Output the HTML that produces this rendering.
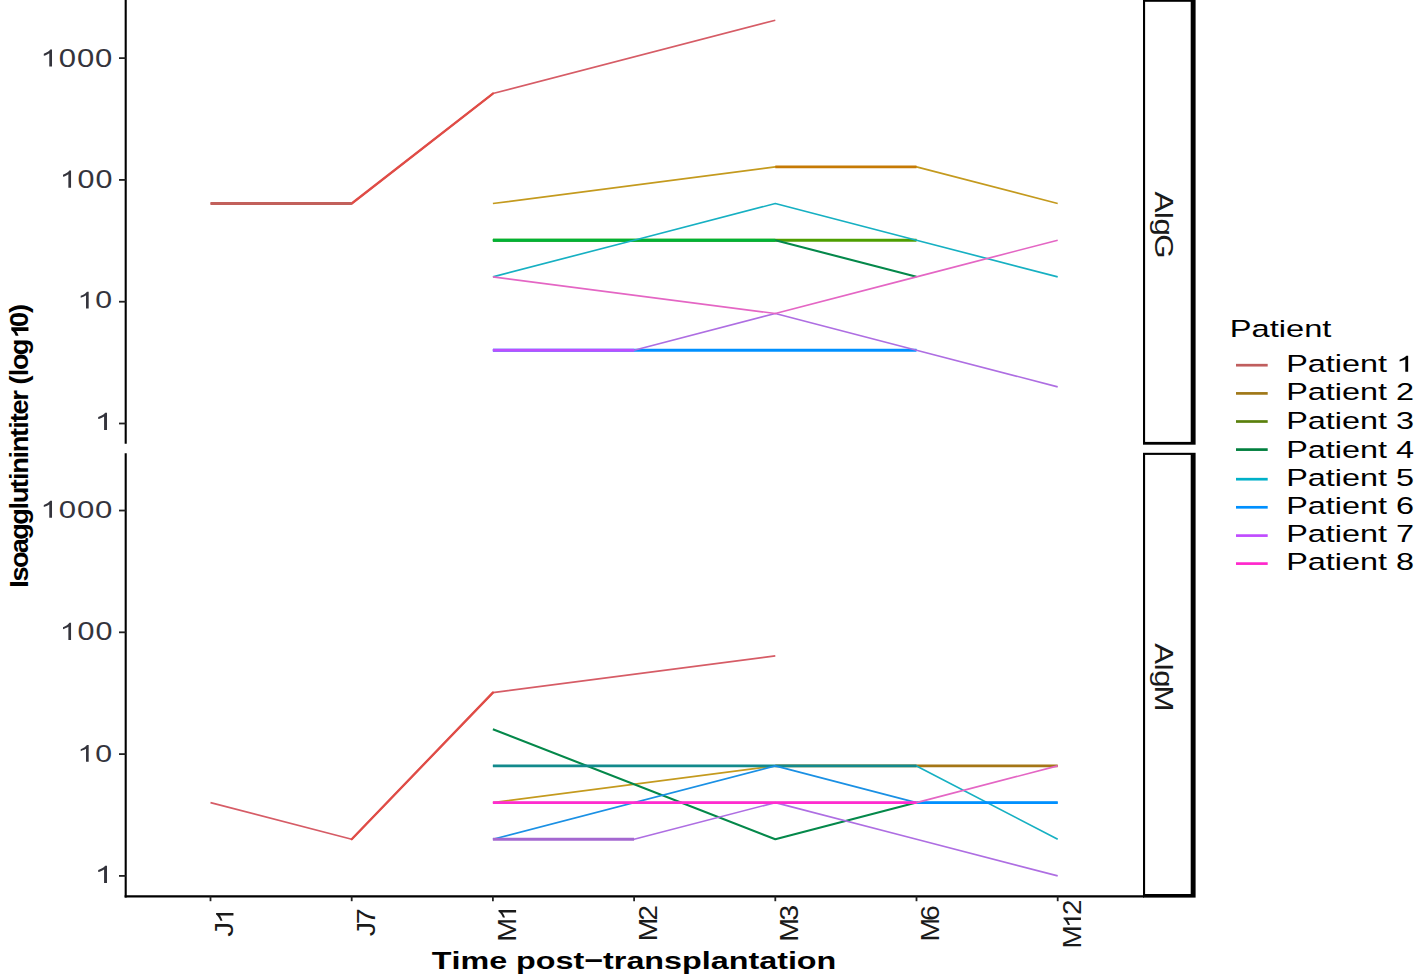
<!DOCTYPE html>
<html><head><meta charset="utf-8"><style>
html,body{margin:0;padding:0;background:#fff;overflow:hidden;width:1417px;height:980px;}
svg{display:block;font-family:"Liberation Sans", sans-serif;}
</style></head><body>
<svg width="1417" height="980" viewBox="0 0 1417 980">
<rect x="0" y="0" width="1417" height="980" fill="#fff"/>
<polyline points="210.50,203.53 351.70,203.53 492.90,93.54 775.30,20.21" fill="none" stroke="#D65C66" stroke-width="1.65" stroke-linejoin="round"/>
<line x1="351.70" y1="203.53" x2="492.90" y2="93.54" stroke="#E04C46" stroke-width="2.3" stroke-linecap="round"/>
<line x1="210.50" y1="203.53" x2="351.70" y2="203.53" stroke="#C2605B" stroke-width="2.9"/>
<polyline points="492.90,203.53 775.30,166.86 916.50,166.86 1057.70,203.53" fill="none" stroke="#C49A1E" stroke-width="1.65" stroke-linejoin="round"/>
<line x1="775.30" y1="166.86" x2="916.50" y2="166.86" stroke="#C67A04" stroke-width="2.9"/>
<polyline points="492.90,240.19 634.10,240.19 775.30,240.19 916.50,240.19" fill="none" stroke="#5A9A10" stroke-width="1.65" stroke-linejoin="round"/>
<line x1="492.90" y1="240.19" x2="916.50" y2="240.19" stroke="#4E9E00" stroke-width="2.9"/>
<polyline points="492.90,240.19 634.10,240.19 775.30,240.19 916.50,276.85" fill="none" stroke="#04884A" stroke-width="2.1" stroke-linejoin="round"/>
<line x1="492.90" y1="240.19" x2="775.30" y2="240.19" stroke="#00B236" stroke-width="2.9"/>
<polyline points="492.90,276.85 634.10,240.19 775.30,203.53 916.50,240.19 1057.70,276.85" fill="none" stroke="#16B0C2" stroke-width="1.65" stroke-linejoin="round"/>
<polyline points="492.90,350.18 634.10,350.18 775.30,350.18 916.50,350.18" fill="none" stroke="#1A90E4" stroke-width="1.65" stroke-linejoin="round"/>
<line x1="492.90" y1="350.18" x2="916.50" y2="350.18" stroke="#0090FF" stroke-width="2.9"/>
<polyline points="492.90,350.18 634.10,350.18 775.30,313.51 916.50,350.18 1057.70,386.84" fill="none" stroke="#AE6EE2" stroke-width="1.65" stroke-linejoin="round"/>
<line x1="492.90" y1="350.18" x2="634.10" y2="350.18" stroke="#BE4EFF" stroke-width="2.9"/>
<polyline points="492.90,276.85 775.30,313.51 916.50,276.85 1057.70,240.19" fill="none" stroke="#E466C4" stroke-width="1.65" stroke-linejoin="round"/>
<polyline points="210.50,802.58 351.70,839.24 492.90,692.59 775.30,655.93" fill="none" stroke="#D65C66" stroke-width="1.65" stroke-linejoin="round"/>
<line x1="351.70" y1="839.24" x2="492.90" y2="692.59" stroke="#E04C46" stroke-width="2.3" stroke-linecap="round"/>
<polyline points="492.90,802.58 775.30,765.91 916.50,765.91 1057.70,765.91" fill="none" stroke="#C49A1E" stroke-width="1.65" stroke-linejoin="round"/>
<line x1="775.30" y1="765.91" x2="1057.70" y2="765.91" stroke="#A47616" stroke-width="2.9"/>
<polyline points="492.90,729.25 775.30,839.24 916.50,802.58" fill="none" stroke="#04884A" stroke-width="2.1" stroke-linejoin="round"/>
<polyline points="492.90,765.91 634.10,765.91 775.30,765.91 916.50,765.91 1057.70,839.24" fill="none" stroke="#16B0C2" stroke-width="1.65" stroke-linejoin="round"/>
<line x1="492.90" y1="765.91" x2="916.50" y2="765.91" stroke="#128A8C" stroke-width="2.9"/>
<polyline points="492.90,839.24 775.30,765.91 916.50,802.58 1057.70,802.58" fill="none" stroke="#1A90E4" stroke-width="1.65" stroke-linejoin="round"/>
<line x1="916.50" y1="802.58" x2="1057.70" y2="802.58" stroke="#0090FF" stroke-width="2.9"/>
<polyline points="492.90,839.24 634.10,839.24 775.30,802.58 916.50,839.24 1057.70,875.90" fill="none" stroke="#AE6EE2" stroke-width="1.65" stroke-linejoin="round"/>
<line x1="492.90" y1="839.24" x2="634.10" y2="839.24" stroke="#A468D0" stroke-width="2.9"/>
<polyline points="492.90,802.58 634.10,802.58 775.30,802.58 916.50,802.58 1057.70,765.91" fill="none" stroke="#E466C4" stroke-width="1.65" stroke-linejoin="round"/>
<line x1="492.90" y1="802.58" x2="916.50" y2="802.58" stroke="#FF2CCF" stroke-width="2.9"/>
<line x1="125.7" y1="0" x2="125.7" y2="443.8" stroke="#000" stroke-width="2.1"/>
<line x1="125.7" y1="453.2" x2="125.7" y2="897.4" stroke="#000" stroke-width="2.1"/>
<line x1="124.65" y1="896.4" x2="1144" y2="896.4" stroke="#000" stroke-width="2.1"/>
<line x1="119" y1="423.50" x2="125.7" y2="423.50" stroke="#222" stroke-width="1.8"/>
<line x1="119" y1="301.71" x2="125.7" y2="301.71" stroke="#222" stroke-width="1.8"/>
<line x1="119" y1="179.92" x2="125.7" y2="179.92" stroke="#222" stroke-width="1.8"/>
<line x1="119" y1="58.13" x2="125.7" y2="58.13" stroke="#222" stroke-width="1.8"/>
<line x1="119" y1="875.90" x2="125.7" y2="875.90" stroke="#222" stroke-width="1.8"/>
<line x1="119" y1="754.11" x2="125.7" y2="754.11" stroke="#222" stroke-width="1.8"/>
<line x1="119" y1="632.32" x2="125.7" y2="632.32" stroke="#222" stroke-width="1.8"/>
<line x1="119" y1="510.53" x2="125.7" y2="510.53" stroke="#222" stroke-width="1.8"/>
<line x1="210.50" y1="896.4" x2="210.50" y2="901.2" stroke="#222" stroke-width="1.8"/>
<line x1="351.70" y1="896.4" x2="351.70" y2="901.2" stroke="#222" stroke-width="1.8"/>
<line x1="492.90" y1="896.4" x2="492.90" y2="901.2" stroke="#222" stroke-width="1.8"/>
<line x1="634.10" y1="896.4" x2="634.10" y2="901.2" stroke="#222" stroke-width="1.8"/>
<line x1="775.30" y1="896.4" x2="775.30" y2="901.2" stroke="#222" stroke-width="1.8"/>
<line x1="916.50" y1="896.4" x2="916.50" y2="901.2" stroke="#222" stroke-width="1.8"/>
<line x1="1057.70" y1="896.4" x2="1057.70" y2="901.2" stroke="#222" stroke-width="1.8"/>
<rect x="1143" y="-0.3" width="52.60" height="445.00" fill="#000"/>
<rect x="1145.1" y="1.80" width="45.60" height="440.10" fill="#fff"/>
<rect x="1143" y="452.8" width="52.60" height="444.80" fill="#000"/>
<rect x="1145.1" y="454.90" width="45.60" height="439.10" fill="#fff"/>
<g transform="translate(40.03,66.56) scale(1.3096,0.9943)" fill="#34343c"><path d="M763 0H583V1098Q518 1038 412 979T222 890V1057Q373 1125 486 1221T646 1409H763Z" transform="translate(6.01,0) scale(0.95,1) translate(-6.01,0) translate(0.000,0) scale(0.01221,-0.01221)"/><text transform="translate(20.86,0) scale(0.95,1) translate(-20.86,0)" x="13.90" y="0" font-size="25.0">0</text><text transform="translate(34.76,0) scale(0.95,1) translate(-34.76,0)" x="27.81" y="0" font-size="25.0">0</text><text transform="translate(48.66,0) scale(0.95,1) translate(-48.66,0)" x="41.71" y="0" font-size="25.0">0</text></g>
<g transform="translate(59.31,187.66) scale(1.2832,1.0000)" fill="#34343c"><path d="M763 0H583V1098Q518 1038 412 979T222 890V1057Q373 1125 486 1221T646 1409H763Z" transform="translate(6.01,0) scale(0.95,1) translate(-6.01,0) translate(0.000,0) scale(0.01221,-0.01221)"/><text transform="translate(20.86,0) scale(0.95,1) translate(-20.86,0)" x="13.90" y="0" font-size="25.0">0</text><text transform="translate(34.76,0) scale(0.95,1) translate(-34.76,0)" x="27.81" y="0" font-size="25.0">0</text></g>
<g transform="translate(77.04,308.46) scale(1.2723,0.9774)" fill="#34343c"><path d="M763 0H583V1098Q518 1038 412 979T222 890V1057Q373 1125 486 1221T646 1409H763Z" transform="translate(6.01,0) scale(0.95,1) translate(-6.01,0) translate(0.000,0) scale(0.01221,-0.01221)"/><text transform="translate(20.86,0) scale(0.95,1) translate(-20.86,0)" x="13.90" y="0" font-size="25.0">0</text></g>
<g transform="translate(94.17,430.00) scale(1.4027,1.0058)" fill="#34343c"><path d="M763 0H583V1098Q518 1038 412 979T222 890V1057Q373 1125 486 1221T646 1409H763Z" transform="translate(6.01,0) scale(0.95,1) translate(-6.01,0) translate(0.000,0) scale(0.01221,-0.01221)"/></g>
<g transform="translate(40.03,517.66) scale(1.3096,0.9774)" fill="#34343c"><path d="M763 0H583V1098Q518 1038 412 979T222 890V1057Q373 1125 486 1221T646 1409H763Z" transform="translate(6.01,0) scale(0.95,1) translate(-6.01,0) translate(0.000,0) scale(0.01221,-0.01221)"/><text transform="translate(20.86,0) scale(0.95,1) translate(-20.86,0)" x="13.90" y="0" font-size="25.0">0</text><text transform="translate(34.76,0) scale(0.95,1) translate(-34.76,0)" x="27.81" y="0" font-size="25.0">0</text><text transform="translate(48.66,0) scale(0.95,1) translate(-48.66,0)" x="41.71" y="0" font-size="25.0">0</text></g>
<g transform="translate(59.31,640.06) scale(1.2832,1.0000)" fill="#34343c"><path d="M763 0H583V1098Q518 1038 412 979T222 890V1057Q373 1125 486 1221T646 1409H763Z" transform="translate(6.01,0) scale(0.95,1) translate(-6.01,0) translate(0.000,0) scale(0.01221,-0.01221)"/><text transform="translate(20.86,0) scale(0.95,1) translate(-20.86,0)" x="13.90" y="0" font-size="25.0">0</text><text transform="translate(34.76,0) scale(0.95,1) translate(-34.76,0)" x="27.81" y="0" font-size="25.0">0</text></g>
<g transform="translate(77.04,761.76) scale(1.2723,0.9774)" fill="#34343c"><path d="M763 0H583V1098Q518 1038 412 979T222 890V1057Q373 1125 486 1221T646 1409H763Z" transform="translate(6.01,0) scale(0.95,1) translate(-6.01,0) translate(0.000,0) scale(0.01221,-0.01221)"/><text transform="translate(20.86,0) scale(0.95,1) translate(-20.86,0)" x="13.90" y="0" font-size="25.0">0</text></g>
<g transform="translate(94.17,883.00) scale(1.4027,1.0058)" fill="#34343c"><path d="M763 0H583V1098Q518 1038 412 979T222 890V1057Q373 1125 486 1221T646 1409H763Z" transform="translate(6.01,0) scale(0.95,1) translate(-6.01,0) translate(0.000,0) scale(0.01221,-0.01221)"/></g>
<g transform="translate(233.45,935.76) rotate(-90) scale(1.0200,1.0090)" fill="#1a1a1a"><text transform="translate(5.52,0) scale(1.18,1) translate(-5.52,0)" x="0.00" y="0" font-size="25.0">J</text><path d="M763 0H583V1098Q518 1038 412 979T222 890V1057Q373 1125 486 1221T646 1409H763Z" transform="translate(18.51,0) scale(1.18,1) translate(-18.51,0) translate(12.500,0) scale(0.01221,-0.01221)"/></g>
<g transform="translate(374.65,935.18) rotate(-90) scale(0.9737,1.0090)" fill="#1a1a1a"><text transform="translate(5.52,0) scale(1.18,1) translate(-5.52,0)" x="0.00" y="0" font-size="25.0">J</text><text transform="translate(19.46,0) scale(1.18,1) translate(-19.46,0)" x="12.50" y="0" font-size="25.0">7</text></g>
<g transform="translate(516.10,939.83) rotate(-90) scale(0.9739,1.0233)" fill="#1a1a1a"><text transform="translate(10.41,0) scale(1.18,1) translate(-10.41,0)" x="0.00" y="0" font-size="25.0">M</text><path d="M763 0H583V1098Q518 1038 412 979T222 890V1057Q373 1125 486 1221T646 1409H763Z" transform="translate(26.84,0) scale(1.18,1) translate(-26.84,0) translate(20.825,0) scale(0.01221,-0.01221)"/></g>
<g transform="translate(657.30,939.52) rotate(-90) scale(0.9573,1.0082)" fill="#1a1a1a"><text transform="translate(10.41,0) scale(1.18,1) translate(-10.41,0)" x="0.00" y="0" font-size="25.0">M</text><text transform="translate(27.78,0) scale(1.18,1) translate(-27.78,0)" x="20.83" y="0" font-size="25.0">2</text></g>
<g transform="translate(798.26,939.83) rotate(-90) scale(0.9692,0.9943)" fill="#1a1a1a"><text transform="translate(10.41,0) scale(1.18,1) translate(-10.41,0)" x="0.00" y="0" font-size="25.0">M</text><text transform="translate(27.70,0) scale(1.18,1) translate(-27.70,0)" x="20.83" y="0" font-size="25.0">3</text></g>
<g transform="translate(939.46,939.82) rotate(-90) scale(0.9612,0.9943)" fill="#1a1a1a"><text transform="translate(10.41,0) scale(1.18,1) translate(-10.41,0)" x="0.00" y="0" font-size="25.0">M</text><text transform="translate(27.86,0) scale(1.18,1) translate(-27.86,0)" x="20.83" y="0" font-size="25.0">6</text></g>
<g transform="translate(1080.90,946.62) rotate(-90) scale(0.9466,1.0082)" fill="#1a1a1a"><text transform="translate(10.41,0) scale(1.18,1) translate(-10.41,0)" x="0.00" y="0" font-size="25.0">M</text><path d="M763 0H583V1098Q518 1038 412 979T222 890V1057Q373 1125 486 1221T646 1409H763Z" transform="translate(26.84,0) scale(1.18,1) translate(-26.84,0) translate(20.825,0) scale(0.01221,-0.01221)"/><text transform="translate(41.68,0) scale(1.18,1) translate(-41.68,0)" x="34.73" y="0" font-size="25.0">2</text></g>
<g transform="translate(1155.37,192.39) rotate(90) scale(1.1429,1.0157)" fill="#1a1a1a"><text transform="translate(8.34,0) scale(1.1,1) translate(-8.34,0)" x="0.00" y="0" font-size="25.0">A</text><text transform="translate(20.15,0) scale(1.1,1) translate(-20.15,0)" x="16.67" y="0" font-size="25.0">I</text><text transform="translate(30.29,0) scale(1.1,1) translate(-30.29,0)" x="23.62" y="0" font-size="25.0">g</text><text transform="translate(46.94,0) scale(1.1,1) translate(-46.94,0)" x="37.52" y="0" font-size="25.0">G</text></g>
<g transform="translate(1155.43,644.18) rotate(90) scale(1.1344,1.0274)" fill="#1a1a1a"><text transform="translate(8.34,0) scale(1.1,1) translate(-8.34,0)" x="0.00" y="0" font-size="25.0">A</text><text transform="translate(20.15,0) scale(1.1,1) translate(-20.15,0)" x="16.67" y="0" font-size="25.0">I</text><text transform="translate(30.29,0) scale(1.1,1) translate(-30.29,0)" x="23.62" y="0" font-size="25.0">g</text><text transform="translate(47.94,0) scale(1.1,1) translate(-47.94,0)" x="37.52" y="0" font-size="25.0">M</text></g>
<g transform="translate(28.43,587.31) rotate(-90) scale(0.9696,0.9952)" fill="#000"><text transform="translate(3.47,0) scale(1.12,1) translate(-3.47,0)" x="0.00" y="0" font-size="25.0" font-weight="bold">I</text><text transform="translate(13.82,0) scale(1.12,1) translate(-13.82,0)" x="6.95" y="0" font-size="25.0" font-weight="bold">s</text><text transform="translate(28.49,0) scale(1.12,1) translate(-28.49,0)" x="20.85" y="0" font-size="25.0" font-weight="bold">o</text><text transform="translate(43.52,0) scale(1.12,1) translate(-43.52,0)" x="36.12" y="0" font-size="25.0" font-weight="bold">a</text><text transform="translate(57.34,0) scale(1.12,1) translate(-57.34,0)" x="50.02" y="0" font-size="25.0" font-weight="bold">g</text><text transform="translate(72.61,0) scale(1.12,1) translate(-72.61,0)" x="65.30" y="0" font-size="25.0" font-weight="bold">g</text><text transform="translate(84.03,0) scale(1.12,1) translate(-84.03,0)" x="80.57" y="0" font-size="25.0" font-weight="bold">l</text><text transform="translate(95.10,0) scale(1.12,1) translate(-95.10,0)" x="87.51" y="0" font-size="25.0" font-weight="bold">u</text><text transform="translate(106.95,0) scale(1.12,1) translate(-106.95,0)" x="102.78" y="0" font-size="25.0" font-weight="bold">t</text><text transform="translate(114.57,0) scale(1.12,1) translate(-114.57,0)" x="111.11" y="0" font-size="25.0" font-weight="bold">i</text><text transform="translate(125.74,0) scale(1.12,1) translate(-125.74,0)" x="118.05" y="0" font-size="25.0" font-weight="bold">n</text><text transform="translate(136.79,0) scale(1.12,1) translate(-136.79,0)" x="133.33" y="0" font-size="25.0" font-weight="bold">i</text><text transform="translate(147.96,0) scale(1.12,1) translate(-147.96,0)" x="140.27" y="0" font-size="25.0" font-weight="bold">n</text><text transform="translate(159.70,0) scale(1.12,1) translate(-159.70,0)" x="155.54" y="0" font-size="25.0" font-weight="bold">t</text><text transform="translate(167.33,0) scale(1.12,1) translate(-167.33,0)" x="163.87" y="0" font-size="25.0" font-weight="bold">i</text><text transform="translate(174.98,0) scale(1.12,1) translate(-174.98,0)" x="170.81" y="0" font-size="25.0" font-weight="bold">t</text><text transform="translate(186.15,0) scale(1.12,1) translate(-186.15,0)" x="179.14" y="0" font-size="25.0" font-weight="bold">e</text><text transform="translate(198.54,0) scale(1.12,1) translate(-198.54,0)" x="193.04" y="0" font-size="25.0" font-weight="bold">r</text><text transform="translate(214.49,0) scale(1.12,1) translate(-214.49,0)" x="209.72" y="0" font-size="25.0" font-weight="bold">(</text><text transform="translate(221.50,0) scale(1.12,1) translate(-221.50,0)" x="218.04" y="0" font-size="25.0" font-weight="bold">l</text><text transform="translate(232.62,0) scale(1.12,1) translate(-232.62,0)" x="224.99" y="0" font-size="25.0" font-weight="bold">o</text><text transform="translate(247.57,0) scale(1.12,1) translate(-247.57,0)" x="240.26" y="0" font-size="25.0" font-weight="bold">g</text><path d="M1006 0H725V1014Q571 876 362 810V1054Q472 1088 601 1184T778 1409H1006Z" transform="translate(263.88,0) scale(1.12,1) translate(-263.88,0) translate(255.530,0) scale(0.01221,-0.01221)"/><text transform="translate(276.37,0) scale(1.12,1) translate(-276.37,0)" x="269.43" y="0" font-size="25.0" font-weight="bold">0</text><text transform="translate(286.89,0) scale(1.12,1) translate(-286.89,0)" x="283.34" y="0" font-size="25.0" font-weight="bold">)</text></g>
<g transform="translate(431.74,969.48) scale(1.2916,0.9870)" fill="#000"><text x="0.00 15.27 22.22 44.45 65.30 80.57 95.84 109.74 118.07 132.67 140.99 150.72 164.62 179.90 193.80 209.07 216.02 229.92 245.19 253.52 267.42 275.74 282.69 297.96" y="0" font-size="25.0" font-weight="bold">Timepost−transplantation</text></g>
<g transform="translate(1229.82,336.87) scale(1.3056,0.9477)" fill="#000"><text x="0.00 16.67 30.58 37.52 43.08 56.98 70.89" y="0" font-size="25.0">Patient</text></g>
<line x1="1236" y1="365.20" x2="1267.7" y2="365.20" stroke="#C05E5E" stroke-width="2.7"/>
<g transform="translate(1286.24,371.67) scale(1.2957,0.9260)" fill="#000"><text x="0.00 16.67 30.58 37.52 43.08 56.98 70.89" y="0" font-size="25.0">Patient</text><path d="M763 0H583V1098Q518 1038 412 979T222 890V1057Q373 1125 486 1221T646 1409H763Z" transform="translate(84.778,0) scale(0.01221,-0.01221)"/></g>
<line x1="1236" y1="393.40" x2="1267.7" y2="393.40" stroke="#A07818" stroke-width="2.7"/>
<g transform="translate(1286.24,399.97) scale(1.2957,0.9369)" fill="#000"><text x="0.00 16.67 30.58 37.52 43.08 56.98 70.89 84.78" y="0" font-size="25.0">Patient2</text></g>
<line x1="1236" y1="421.50" x2="1267.7" y2="421.50" stroke="#5A800C" stroke-width="2.7"/>
<g transform="translate(1286.24,429.17) scale(1.2957,0.9369)" fill="#000"><text x="0.00 16.67 30.58 37.52 43.08 56.98 70.89 84.78" y="0" font-size="25.0">Patient3</text></g>
<line x1="1236" y1="449.60" x2="1267.7" y2="449.60" stroke="#007F3E" stroke-width="2.7"/>
<g transform="translate(1286.24,457.57) scale(1.2957,0.9369)" fill="#000"><text x="0.00 16.67 30.58 37.52 43.08 56.98 70.89 84.78" y="0" font-size="25.0">Patient4</text></g>
<line x1="1236" y1="479.20" x2="1267.7" y2="479.20" stroke="#00B0C8" stroke-width="2.7"/>
<g transform="translate(1286.24,486.17) scale(1.2957,0.9369)" fill="#000"><text x="0.00 16.67 30.58 37.52 43.08 56.98 70.89 84.78" y="0" font-size="25.0">Patient5</text></g>
<line x1="1236" y1="507.30" x2="1267.7" y2="507.30" stroke="#0090FF" stroke-width="2.7"/>
<g transform="translate(1286.24,513.97) scale(1.2957,0.9369)" fill="#000"><text x="0.00 16.67 30.58 37.52 43.08 56.98 70.89 84.78" y="0" font-size="25.0">Patient6</text></g>
<line x1="1236" y1="535.60" x2="1267.7" y2="535.60" stroke="#C04CFF" stroke-width="2.7"/>
<g transform="translate(1286.24,542.17) scale(1.2957,0.9369)" fill="#000"><text x="0.00 16.67 30.58 37.52 43.08 56.98 70.89 84.78" y="0" font-size="25.0">Patient7</text></g>
<line x1="1236" y1="563.60" x2="1267.7" y2="563.60" stroke="#FF28CC" stroke-width="2.7"/>
<g transform="translate(1286.24,570.17) scale(1.2957,0.9369)" fill="#000"><text x="0.00 16.67 30.58 37.52 43.08 56.98 70.89 84.78" y="0" font-size="25.0">Patient8</text></g>
</svg>
</body></html>
